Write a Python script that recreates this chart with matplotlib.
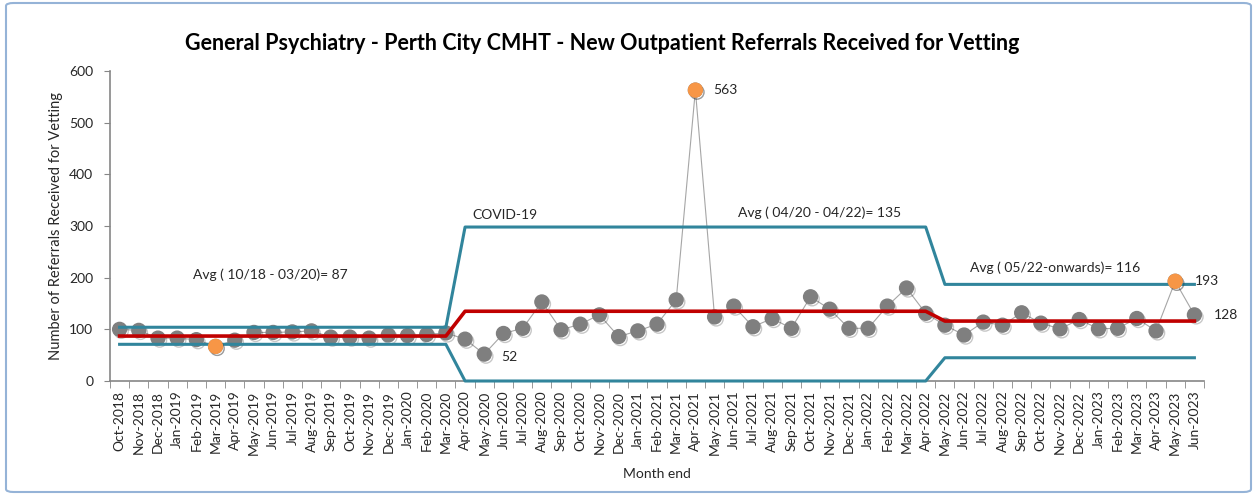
import matplotlib
matplotlib.use("Agg")
import matplotlib.pyplot as plt
import matplotlib.patheffects as pe
from matplotlib.patches import FancyBboxPatch
import numpy as np
import pandas as pd

# --- datos ---
months = pd.date_range("2018-10-01", periods=57, freq="MS").strftime("%b-%Y").tolist()

referrals = [100, 98, 83, 83, 80, 67, 79, 94, 94, 95, 97, 85, 85, 83, 89, 88, 90, 93,
             81, 52, 92, 102, 153, 99, 110, 128, 86, 97, 110, 157, 563, 124, 145, 105,
             121, 102, 163, 139, 102, 102, 145, 180, 131,
             108, 89, 114, 108, 132, 112, 101, 119, 101, 102, 121, 97, 193, 128]
outlier_idx = [5, 30, 55]

# periodos: (n meses, media, limite sup, limite inf)
period_len = [18, 25, 14]
period_avg = [87, 135, 116]
period_ucl = [104, 298, 187]
period_lcl = [71, 0, 45]

labels = ["Avg ( 10/18 - 03/20)= 87", "COVID-19", "Avg ( 04/20 - 04/22)= 135",
          "Avg ( 05/22-onwards)= 116"]
label_pos = [(3.8, 205), (18.4, 321), (32.2, 325), (44.3, 219)]

avg = np.repeat(period_avg, period_len)
ucl = np.repeat(period_ucl, period_len)
lcl = np.repeat(period_lcl, period_len)
x = np.arange(len(referrals))
y = np.array(referrals)

plt.rcParams["font.family"] = ["Lato", "DejaVu Sans"]
txt = "#262626"
fs = 10

fig = plt.figure(figsize=(12.55, 4.96), dpi=100)
ax = fig.add_axes([110 / 1255, 1 - 381 / 496, 1094 / 1255, 310 / 496])

shadow = [pe.SimpleLineShadow(offset=(1.2, -1.5), alpha=0.22, shadow_color="k"), pe.Normal()]

# serie principal: linea fina + puntos con sombra
ax.plot(x, y, color="#A6A6A6", lw=0.8, zorder=2)
ax.plot(x, y, ls="none", marker="o", ms=10, mfc="#7F7F7F", mec="#7F7F7F",
        zorder=2, path_effects=shadow)

# media y limites
ax.plot(x, avg, color="#C00000", lw=2.6, zorder=3)
ax.plot(x, ucl, color="#31859C", lw=2.2, zorder=3)
ax.plot(x, lcl, color="#31859C", lw=2.2, zorder=3, clip_on=False)

# puntos fuera de control
ax.plot(x[outlier_idx], y[outlier_idx], ls="none", marker="o", ms=10,
        mfc="#F79646", mec="#F79646", zorder=4, path_effects=shadow)

# etiquetas de datos
ax.annotate("563", (30, 563), xytext=(13, 0), textcoords="offset points",
            va="center", ha="left", fontsize=fs, color=txt)
ax.annotate("52", (19, 52), xytext=(12, -2), textcoords="offset points",
            va="center", ha="left", fontsize=fs, color=txt)
ax.annotate("193", (55, 193), xytext=(14, 0), textcoords="offset points",
            va="center", ha="left", fontsize=fs, color=txt)
ax.annotate("128", (56, 128), xytext=(14, 0), textcoords="offset points",
            va="center", ha="left", fontsize=fs, color=txt)

for t, (px, py) in zip(labels, label_pos):
    ax.text(px, py, t, fontsize=fs, color=txt, va="center", ha="left")

ax.set_xlim(-0.5, len(referrals) - 0.5)
ax.set_ylim(0, 600)
ax.set_yticks(range(0, 601, 100))
ax.set_xticks(x)
ax.set_xticklabels(months, rotation=90, fontsize=fs, color=txt)
ax.set_xticks(np.arange(-0.5, len(referrals), 1), minor=True)
ax.tick_params(axis="x", which="major", length=0, pad=7)
ax.tick_params(axis="x", which="minor", length=5, color="#868686")
ax.tick_params(axis="y", length=4, color="#868686", labelsize=fs, labelcolor=txt, pad=8)

for s in ["top", "right"]:
    ax.spines[s].set_visible(False)
for s in ["left", "bottom"]:
    ax.spines[s].set_color("#868686")
    ax.spines[s].set_linewidth(1.2)

ax.set_ylabel("Number of Referrals Received for Vetting", fontsize=10.5, color=txt)
ax.yaxis.set_label_coords(-0.043, 0.5)
fig.text(657 / 1255, 1 - 474 / 496, "Month end", fontsize=fs, color=txt,
         ha="center", va="center")
fig.text(602 / 1255, 1 - 44 / 496,
         "General Psychiatry - Perth City CMHT - New Outpatient Referrals Received for Vetting",
         fontsize=15.5, fontweight="bold", color="black", ha="center", va="center")

# marco del grafico
frame = FancyBboxPatch((6 / 1255, 4 / 496), 1245 / 1255, 489 / 496,
                       boxstyle="round,pad=0,rounding_size=0.006",
                       transform=fig.transFigure, fill=False,
                       ec="#95B3D7", lw=1.5)
fig.patches.append(frame)

fig.savefig("out.png", dpi=100)
